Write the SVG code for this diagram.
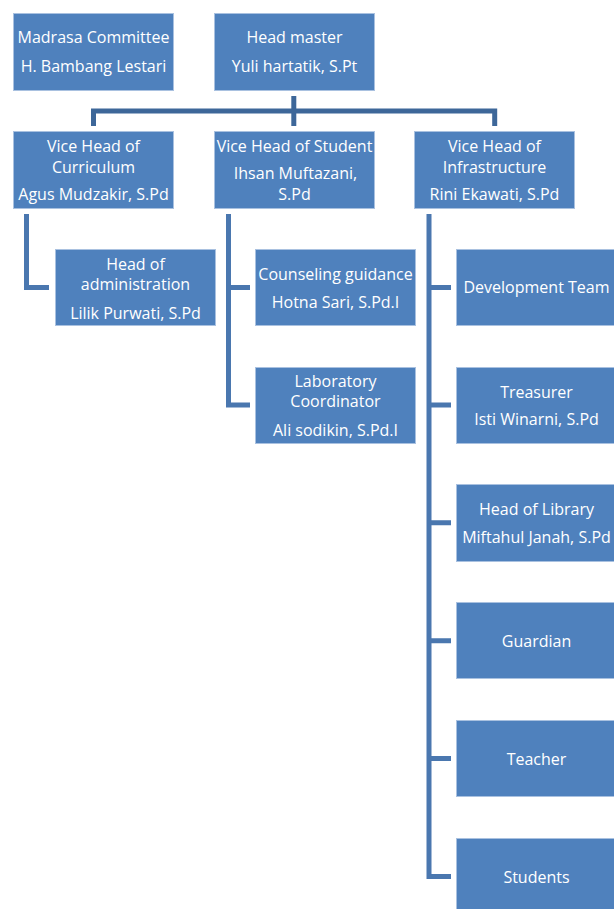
<svg xmlns="http://www.w3.org/2000/svg" width="614" height="909" viewBox="0 0 614 909">
<style>
.box{fill:#4F81BD;stroke:#A9C1E0;stroke-width:1}
.t{font-family:"Open Sans","Liberation Sans",sans-serif;font-size:16px;fill:#FFFFFF;text-anchor:middle}
.c1{fill:none;stroke:#3D6799;stroke-width:5;stroke-linejoin:miter}
.c2{fill:none;stroke:#4A77AF;stroke-width:5;stroke-linejoin:miter}
</style>
<rect width="614" height="909" fill="#FFFFFF"/>
<g id="connectors">
<path class="c1" d="M293.8,96 V126"/>
<path class="c1" d="M93.5,126 V111 H494.7 V126"/>
<path class="c2" d="M26.5,214 V287.5 H49"/>
<path class="c2" d="M228.5,214 V405 H250 M228.5,287.5 H250"/>
<path class="c2" d="M429,214 V876.5 H451 M429,287.5 H451 M429,405 H451 M429,522.7 H451 M429,640.7 H451 M429,758.5 H451"/>
</g>
<g id="committee">
<rect class="box" x="13.5" y="13.5" width="160" height="77"/>
<text class="t" x="93.5" y="43">Madrasa Committee</text>
<text class="t" x="93.5" y="72">H. Bambang Lestari</text>
</g>
<g id="headmaster">
<rect class="box" x="214.5" y="13.5" width="160" height="77"/>
<text class="t" x="294.5" y="43">Head master</text>
<text class="t" x="294.5" y="72">Yuli hartatik, S.Pt</text>
</g>
<g id="vh-curriculum">
<rect class="box" x="13.5" y="131.5" width="160" height="77"/>
<text class="t" x="93.5" y="152">Vice Head of</text>
<text class="t" x="93.5" y="173">Curriculum</text>
<text class="t" x="93.5" y="200">Agus Mudzakir, S.Pd</text>
</g>
<g id="vh-student">
<rect class="box" x="214.5" y="131.5" width="160" height="77"/>
<text class="t" x="294.5" y="152">Vice Head of Student</text>
<text class="t" x="295.5" y="179">Ihsan Muftazani,</text>
<text class="t" x="294.5" y="200">S.Pd</text>
</g>
<g id="vh-infrastructure">
<rect class="box" x="414.5" y="131.5" width="160" height="77"/>
<text class="t" x="494.5" y="152">Vice Head of</text>
<text class="t" x="494.5" y="172.5">Infrastructure</text>
<text class="t" x="494.5" y="200">Rini Ekawati, S.Pd</text>
</g>
<g id="head-admin">
<rect class="box" x="55.5" y="249.5" width="160" height="76"/>
<text class="t" x="135.5" y="269.5">Head of</text>
<text class="t" x="135.5" y="289.5">administration</text>
<text class="t" x="135.5" y="318.5">Lilik Purwati, S.Pd</text>
</g>
<g id="counseling">
<rect class="box" x="255.5" y="249.5" width="160" height="76"/>
<text class="t" x="335.5" y="279.5">Counseling guidance</text>
<text class="t" x="335.5" y="307.5">Hotna Sari, S.Pd.I</text>
</g>
<g id="laboratory">
<rect class="box" x="255.5" y="367.5" width="160" height="76"/>
<text class="t" x="335.5" y="387">Laboratory</text>
<text class="t" x="335.5" y="407">Coordinator</text>
<text class="t" x="335.5" y="436">Ali sodikin, S.Pd.I</text>
</g>
<g id="development">
<rect class="box" x="456.5" y="249.5" width="160" height="76"/>
<text class="t" x="536.5" y="293">Development Team</text>
</g>
<g id="treasurer">
<rect class="box" x="456.5" y="367.5" width="160" height="76"/>
<text class="t" x="536.5" y="397.5">Treasurer</text>
<text class="t" x="536.5" y="425">Isti Winarni, S.Pd</text>
</g>
<g id="library">
<rect class="box" x="456.5" y="484.5" width="160" height="77"/>
<text class="t" x="536.5" y="514.5">Head of Library</text>
<text class="t" x="536.5" y="543">Miftahul Janah, S.Pd</text>
</g>
<g id="guardian">
<rect class="box" x="456.5" y="602.5" width="160" height="76"/>
<text class="t" x="536.5" y="647">Guardian</text>
</g>
<g id="teacher">
<rect class="box" x="456.5" y="720.5" width="160" height="76"/>
<text class="t" x="536.5" y="764.5">Teacher</text>
</g>
<g id="students">
<rect class="box" x="456.5" y="838.5" width="160" height="76"/>
<text class="t" x="536.5" y="882.5">Students</text>
</g>
</svg>
